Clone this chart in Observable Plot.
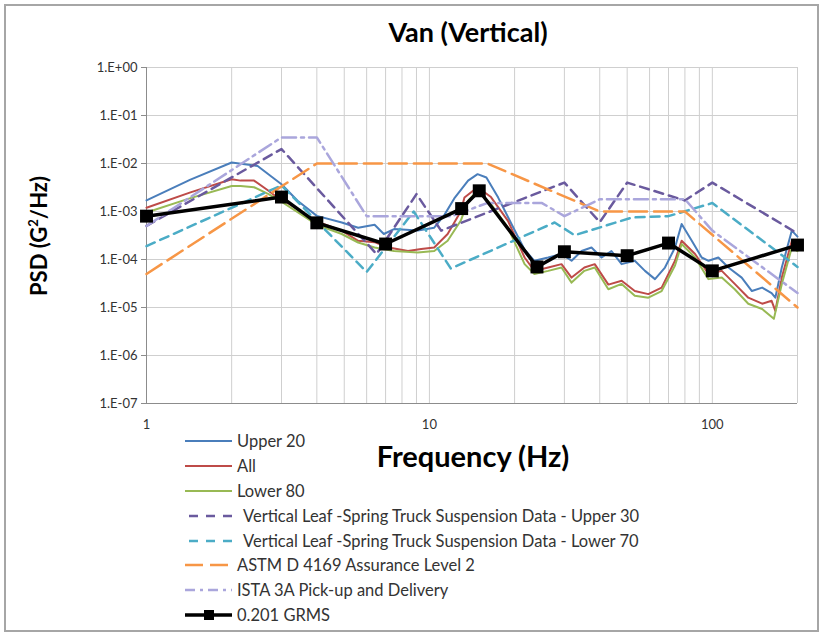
<!DOCTYPE html>
<html><head><meta charset="utf-8">
<script src="https://cdn.jsdelivr.net/npm/d3@7"></script>
<script src="https://cdn.jsdelivr.net/npm/@observablehq/plot@0.6"></script>
<style>
body{margin:0;background:#fff;font-family:Lato,"Open Sans",sans-serif;}
#wrap{position:relative;width:825px;height:638px;overflow:hidden;background:#fff;}
#frame{position:absolute;left:4px;top:4px;width:815px;height:628px;border:2px solid #a6a6a6;box-sizing:border-box;}
#chart{position:absolute;left:0;top:0;}
#title{position:absolute;left:0;width:936px;top:15px;text-align:center;font-weight:bold;font-size:27px;color:#000;}
#ylab{position:absolute;left:38px;top:236px;transform:translate(-50%,-50%) rotate(-90deg);white-space:nowrap;font-weight:bold;font-size:22px;color:#000;}
#xlab{position:absolute;left:473px;top:455px;transform:translate(-50%,-50%);white-space:nowrap;font-weight:bold;font-size:29px;color:#000;}
#legend{position:absolute;left:184px;top:429px;}
.row{height:24.8px;display:flex;align-items:center;font-size:16.5px;color:#333;white-space:nowrap;}
.row svg{margin-right:3px;}
</style></head>
<body><div id="wrap"><div id="frame"></div><div id="chart"></div>
<div id="title">Van (Vertical)</div>
<div id="ylab">PSD (G<sup style="font-size:13px">2</sup>/Hz)</div>
<div id="xlab">Frequency (Hz)</div>
<div id="legend"></div></div>
<script>
// ---- data ----
const xTicks = [1, 10, 100];
const xTickLabels = ["1", "10", "100"];
const xGrid = [1,2,3,4,5,6,7,8,9,10,20,30,40,50,60,70,80,90,100,200];
const yTicks = [1, 1e-1, 1e-2, 1e-3, 1e-4, 1e-5, 1e-6, 1e-7];
const yTickLabels = ["1.E+00","1.E-01","1.E-02","1.E-03","1.E-04","1.E-05","1.E-06","1.E-07"];

const upper20 = [[1,1.7e-3],[1.43,4.6e-3],[2,1.05e-2],[2.47,8.9e-3],[3,3.7e-3],[3.42,1.67e-3],[4,8.1e-4],[4.9,5.9e-4],[5.6,4.6e-4],[6.4,5.3e-4],[6.9,3.4e-4],[7.5,4.3e-4],[9.1,4.0e-4],[10.4,4.6e-4],[11.3,8.5e-4],[12.3,1.95e-3],[13.7,4.4e-3],[14.8,6.0e-3],[15.9,5.1e-3],[17.5,1.95e-3],[19.5,5.5e-4],[21.7,1.6e-4],[23.5,9.4e-5],[26.3,1.1e-4],[29.3,1.3e-4],[31.8,9.4e-5],[34.5,1.5e-4],[37.4,1.78e-4],[40.6,1.1e-4],[44,1.5e-4],[47.8,8e-5],[53.2,9.4e-5],[57.8,5.8e-5],[62.7,3.9e-5],[68,6.8e-5],[73.8,1.78e-4],[77.9,5.5e-4],[84.5,2.5e-4],[91.7,1.1e-4],[97,9.4e-5],[105,1.1e-4],[114,6.8e-5],[127,4.2e-5],[138,2.2e-5],[150,2.6e-5],[162,2e-5],[167,1.6e-5],[176,6.8e-5],[191,4e-4],[200,3e-4]];

const all = [[1,1.2e-3],[1.43,2.5e-3],[2,4.7e-3],[2.15,4.4e-3],[2.4,4.4e-3],[2.7,2.7e-3],[2.9,1.95e-3],[3,1.8e-3],[4,6.2e-4],[4.9,4e-4],[5.6,2.45e-4],[6.4,2.3e-4],[7.1,1.8e-4],[8.4,1.5e-4],[9.35,1.65e-4],[10.4,1.78e-4],[11.6,3.4e-4],[12.9,1e-3],[13.3,1.95e-3],[14.8,3.2e-3],[16.5,2e-3],[18.95,6.4e-4],[21.7,1.1e-4],[23.5,5.8e-5],[26.3,6.8e-5],[29.3,8e-5],[31.8,4.2e-5],[35.3,6.8e-5],[38.4,8e-5],[42.9,3e-5],[47.8,3.6e-5],[53.2,2.2e-5],[59.4,1.9e-5],[66.2,2.6e-5],[73.8,9.4e-5],[77.9,2.45e-4],[86.9,1.3e-4],[96.9,5e-5],[108,5.8e-5],[120,3.1e-5],[134,1.6e-5],[150,1.2e-5],[162,1.38e-5],[167,8.5e-6],[176,4.2e-5],[191,2.45e-4],[200,1.78e-4]];

const lower80 = [[1,9.5e-4],[1.43,1.9e-3],[2,3.4e-3],[2.15,3.4e-3],[2.4,3.2e-3],[2.7,2.3e-3],[3,1.6e-3],[4,5.3e-4],[4.9,3.4e-4],[5.6,2.26e-4],[6.4,1.78e-4],[7.5,1.5e-4],[9.1,1.4e-4],[10.4,1.5e-4],[11.6,2.45e-4],[12.9,6.4e-4],[13.7,1.67e-3],[14.8,2.7e-3],[16.5,1.43e-3],[18.95,4.6e-4],[21.7,8e-5],[23.5,5e-5],[26.3,5.8e-5],[29.3,6.8e-5],[31.8,3.3e-5],[35.3,5.8e-5],[38.4,6.8e-5],[42.9,2.4e-5],[47.8,3.1e-5],[53.2,1.75e-5],[59.4,1.6e-5],[66.2,2.2e-5],[73.8,7.5e-5],[77.9,2.1e-4],[86.9,1.1e-4],[96.9,3.9e-5],[108,4.2e-5],[120,2.4e-5],[134,1.2e-5],[150,9.3e-6],[165,5.8e-6],[176,3.1e-5],[191,1.78e-4],[200,1.5e-4]];

const leafUpper30 = [[1,5e-4],[3,2e-2],[6.5,1.3e-4],[9,2.3e-3],[11,4e-4],[30,4e-3],[40,6e-4],[50,4e-3],[80,1.7e-3],[100,4e-3],[200,3.5e-4]];
const leafLower70 = [[1,1.9e-4],[3,3.5e-3],[6,5.5e-5],[8.8,1e-3],[11.9,6.5e-5],[27.7,5.9e-4],[32.6,3.2e-4],[52,7.5e-4],[70,8e-4],[100,1.5e-3],[200,7e-5]];
const astm = [[1,5e-5],[4,1e-2],[16,1e-2],[40,1e-3],[80,1e-3],[200,1e-5]];
const ista = [[1,5e-4],[3,3.5e-2],[4,3.5e-2],[6,8e-4],[12,8e-4],[16,1.5e-3],[25,1.5e-3],[30,8e-4],[40,1.8e-3],[80,1.8e-3],[100,4e-4],[200,2e-5]];
const grms = [[1,8e-4],[3,2e-3],[4,5.8e-4],[7,2.1e-4],[13,1.15e-3],[15,2.7e-3],[24,7e-5],[30,1.45e-4],[50,1.2e-4],[70,2.2e-4],[100,5.8e-5],[200,2e-4]];

const legendNames = ["Upper 20","All","Lower 80","Vertical Leaf -Spring Truck Suspension Data - Upper 30","Vertical Leaf -Spring Truck Suspension Data - Lower 70","ASTM D 4169 Assurance Level 2","ISTA 3A Pick-up and Delivery","0.201 GRMS"];

// ---- styles ----
const styles = [
  {data: upper20, stroke:"#4a7ebb", w:2, dash:null},
  {data: all, stroke:"#be4b48", w:2, dash:null},
  {data: lower80, stroke:"#98b954", w:2, dash:null},
  {data: leafUpper30, stroke:"#6a5a9e", w:2.5, dash:"9,6"},
  {data: leafLower70, stroke:"#4bacc6", w:2.5, dash:"9,6"},
  {data: astm, stroke:"#f79646", w:2.5, dash:"18,7"},
  {data: ista, stroke:"#aaa6dc", w:2.5, dash:"14,5,3,5"},
  {data: grms, stroke:"#000", w:3.5, dash:null}
];

const gridColor = "#cfcfcf";
const marks = [
  Plot.ruleX(xGrid, {stroke: gridColor, strokeWidth: 1}),
  Plot.ruleY(yTicks, {stroke: gridColor, strokeWidth: 1}),
  Plot.ruleX([1], {stroke: "#8c8c8c", strokeWidth: 1}),
  Plot.ruleY([1e-7], {stroke: "#8c8c8c", strokeWidth: 1}),
  Plot.axisY({ticks: yTicks, tickFormat: d => yTickLabels[yTicks.indexOf(d)], tickSize: 5, tickPadding: 4, stroke: "#8c8c8c", label: null, fill: "#333"}),
  Plot.axisX({ticks: xTicks, tickFormat: d => xTickLabels[xTicks.indexOf(d)], tickSize: 0, tickPadding: 16, label: null, fill: "#333"})
];
for (const s of styles) {
  marks.push(Plot.line(s.data, {x: d => d[0], y: d => d[1], stroke: s.stroke, strokeWidth: s.w, strokeDasharray: s.dash, strokeLinejoin: "round"}));
}
marks.push(Plot.dot(grms, {x: d => d[0], y: d => d[1], symbol: "square", r: 7.3, fill: "#000", stroke: "none"}));

const chart = Plot.plot({
  width: 825, height: 440,
  marginLeft: 146, marginRight: 28, marginTop: 67, marginBottom: 37,
  x: {type: "log", domain: [1, 200]},
  y: {type: "log", domain: [1e-7, 1]},
  style: {fontFamily: "Lato, sans-serif", fontSize: "13px", background: "transparent", color: "#333"},
  marks
});
document.getElementById("chart").appendChild(chart);

// ---- legend ----
const leg = document.getElementById("legend");
styles.forEach((s, i) => {
  const row = document.createElement("div");
  row.className = "row";
  const ns = "http://www.w3.org/2000/svg";
  const svg = document.createElementNS(ns, "svg");
  svg.setAttribute("width", 50); svg.setAttribute("height", 14);
  const ln = document.createElementNS(ns, "line");
  ln.setAttribute("x1", 1); ln.setAttribute("x2", 48); ln.setAttribute("y1", 7); ln.setAttribute("y2", 7);
  ln.setAttribute("stroke", s.stroke); ln.setAttribute("stroke-width", s.w);
  if (s.dash) ln.setAttribute("stroke-dasharray", i === 5 ? "18,7" : (i === 6 ? "10,5,3,5" : "9,8"));
  if (s.dash && i < 5) ln.setAttribute("x1", 5);
  svg.appendChild(ln);
  if (i === 7) {
    const r = document.createElementNS(ns, "rect");
    r.setAttribute("x", 20); r.setAttribute("y", 2); r.setAttribute("width", 10); r.setAttribute("height", 10); r.setAttribute("fill", "#000");
    svg.appendChild(r);
  }
  row.appendChild(svg);
  const t = document.createElement("span");
  t.textContent = legendNames[i];
  if (i === 3 || i === 4) t.style.marginLeft = "6px";
  row.appendChild(t);
  leg.appendChild(row);
});
</script></body></html>
